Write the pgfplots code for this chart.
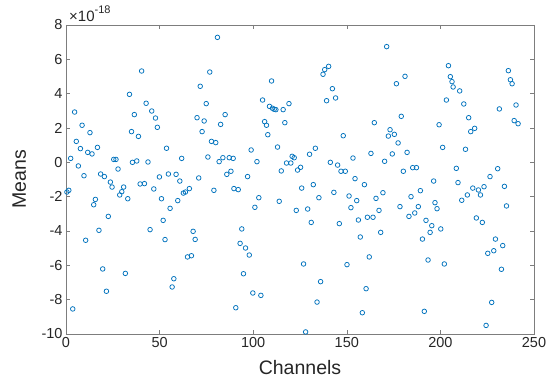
\documentclass[border=0pt]{standalone}
\usepackage{fontspec}
\setmainfont{Liberation Sans}
\usepackage{pgfplots}
\pgfplotsset{compat=1.18}
\definecolor{mblue}{rgb}{0,0.447,0.741}
\definecolor{axgray}{rgb}{0.15,0.15,0.15}
\begin{document}
\begin{tikzpicture}[x=1pt,y=1pt]
\begin{axis}[
  scale only axis, width=468pt, height=309pt,
  at={(0,0)}, anchor=south west,
  xmin=0, xmax=250, ymin=-10, ymax=8,
  xtick={0,50,...,250}, ytick={-10,-8,...,8},
  tick align=inside, major tick length=4pt,
  axis line style={draw=axgray!60, line width=0.6pt},
  every tick/.style={draw=axgray!60, line width=0.6pt},
  /pgf/number format/assume math mode=true,
  ticklabel style={font=\fontsize{14.5}{16}\selectfont, text=axgray},
  xlabel={Channels}, ylabel={Means},
  label style={font=\fontsize{19.5}{22}\selectfont, text=axgray},
  xlabel style={at={(axis description cs:0.5,-0.11)}, anchor=center},
  ylabel style={at={(axis description cs:-0.1,0.5)}, anchor=center},
  clip=false,
]
\addplot[only marks, mark=o, mark size=2.3pt, mark options={draw=mblue, line width=0.75pt}] coordinates {
(0.5,-1.73)(1.5,-1.63)(2.5,0.23)(3.6,-8.54)(4.6,2.93)(5.5,1.22)(6.6,-0.21)(7.7,0.80)(8.6,2.16)(9.6,-0.78)
(10.5,-4.54)(11.6,0.58)(12.8,1.73)(13.9,0.49)(14.8,-2.47)(15.7,-2.16)(16.8,0.87)(17.6,-3.96)(18.5,-0.68)(19.6,-6.21)
(20.5,-0.83)(21.6,-7.51)(22.6,-3.15)(23.7,-1.15)(24.6,-1.44)(25.5,0.17)(26.7,0.17)(27.8,-0.39)(28.7,-1.90)(29.8,-1.71)
(30.8,-1.44)(31.7,-6.47)(33.0,-2.12)(33.9,3.96)(35.0,1.79)(35.5,0.0)(36.5,2.78)(37.8,0.08)(38.7,1.51)(39.6,-1.26)
(40.4,5.32)(41.9,-1.24)(42.8,3.44)(43.8,0.02)(44.9,-3.92)(45.8,2.99)(46.9,-1.55)(47.8,2.58)(48.8,2.04)(49.9,-0.85)
(51.0,-2.12)(51.9,-3.38)(52.9,-4.50)(53.7,0.82)(54.7,-0.68)(55.6,-2.68)(56.7,-7.26)(57.6,-6.78)(58.8,-0.70)(59.7,-2.23)
(60.8,-1.09)(61.8,0.23)(62.7,-1.79)(63.8,-1.73)(64.9,-5.51)(65.9,-1.53)(67.0,-5.44)(67.9,-4.02)(69.0,-4.49)(70.0,2.60)
(70.9,-0.91)(71.7,4.43)(72.7,1.79)(73.8,2.41)(74.9,3.42)(75.8,0.31)(76.8,5.26)(77.7,1.22)(79.0,-1.63)(80.0,1.15)
(80.9,7.28)(81.8,0.04)(82.6,2.21)(83.8,0.27)(85.0,2.78)(85.9,-0.70)(87.2,0.27)(88.1,-0.52)(89.3,0.23)(89.7,-1.53)
(90.7,-8.47)(92.0,-1.59)(93.0,-4.72)(93.9,-3.88)(94.8,-6.49)(95.9,-4.99)(97.0,-0.83)(97.9,-5.40)(98.9,0.72)(99.8,-7.61)
(100.9,-2.62)(102.0,0.04)(103.0,-2.06)(104.1,-7.75)(105.0,3.63)(106.1,2.37)(107.1,2.16)(107.8,1.61)(108.7,3.26)(109.8,4.74)
(110.3,3.15)(111.2,3.09)(112.1,3.07)(113.0,0.89)(113.9,-2.27)(115.0,-0.50)(116.0,3.07)(116.9,2.31)(117.8,-0.04)(119.1,3.42)
(120.1,-0.04)(120.8,0.35)(121.9,0.27)(123.0,-2.80)(123.7,-0.45)(125.3,-0.29)(125.9,-1.50)(126.9,-5.92)(128.0,-9.88)(129.1,-2.72)
(130.1,0.47)(131.0,-3.50)(132.1,-1.30)(133.2,0.82)(134.1,-8.14)(135.1,-2.06)(136.0,-6.95)(137.3,5.13)(138.2,5.40)(139.2,3.59)
(140.3,5.59)(141.2,0.0)(142.3,4.29)(143.1,-1.75)(144.0,3.75)(145.1,-0.16)(146.0,-3.57)(146.9,-0.52)(148.1,1.55)(149.2,-0.52)
(150.1,-5.96)(151.2,-1.96)(152.2,-2.64)(153.3,0.25)(154.4,-0.95)(155.3,-2.23)(156.2,-3.36)(157.2,-4.35)(158.3,-8.76)(159.4,-1.30)
(160.3,-7.36)(161.0,-3.20)(162.0,-5.51)(162.9,0.52)(164.0,-3.20)(164.7,2.31)(165.6,-2.10)(167.2,-2.80)(168.1,-4.08)(169.3,-1.77)
(170.2,0.06)(171.3,6.74)(172.2,1.53)(173.1,1.90)(174.3,0.49)(175.4,1.63)(176.5,4.58)(177.4,1.13)(178.4,-2.58)(179.1,2.68)
(180.2,-0.52)(181.1,5.01)(182.2,0.58)(183.2,-3.15)(184.3,-2.00)(185.2,-0.31)(186.3,-2.95)(187.2,-0.31)(188.2,-2.58)(189.3,-1.65)
(190.4,-4.47)(191.4,-8.68)(192.3,-3.38)(193.4,-5.69)(194.5,-4.08)(195.4,-3.69)(196.4,-1.09)(197.1,-2.35)(198.2,-2.70)(199.3,2.19)
(200.2,-3.88)(201.2,0.87)(202.1,-5.92)(203.2,3.63)(204.3,5.63)(205.3,4.99)(206.2,4.70)(206.8,4.39)(208.5,-0.35)(209.4,-1.18)
(210.3,4.16)(211.4,-2.21)(212.5,3.40)(213.4,0.76)(214.4,-1.90)(215.1,2.60)(216.2,1.79)(217.3,-1.50)(218.3,1.98)(219.2,-3.24)
(220.3,-1.61)(221.4,-1.90)(222.4,-3.50)(223.3,-1.42)(224.4,-9.50)(225.3,-5.30)(226.5,-0.83)(227.4,-8.16)(228.5,-5.15)(229.4,-4.47)
(230.6,-0.37)(231.5,3.11)(232.6,-6.23)(233.3,-4.85)(234.2,-1.40)(235.3,-2.54)(236.3,5.34)(237.4,4.81)(238.3,4.58)(239.4,2.43)
(240.4,3.34)(241.5,2.25)
};
\node[anchor=south west, inner sep=0pt, text=axgray, font=\fontsize{15}{17}\selectfont] at (rel axis cs:0,1) [yshift=3pt,xshift=3pt] {×10\raisebox{1.0ex}{\fontsize{11}{11}\selectfont -18}};
\end{axis}
\pgfresetboundingbox
\path[use as bounding box] (-66,-49) rectangle (485,334);
\end{tikzpicture}
\end{document}
